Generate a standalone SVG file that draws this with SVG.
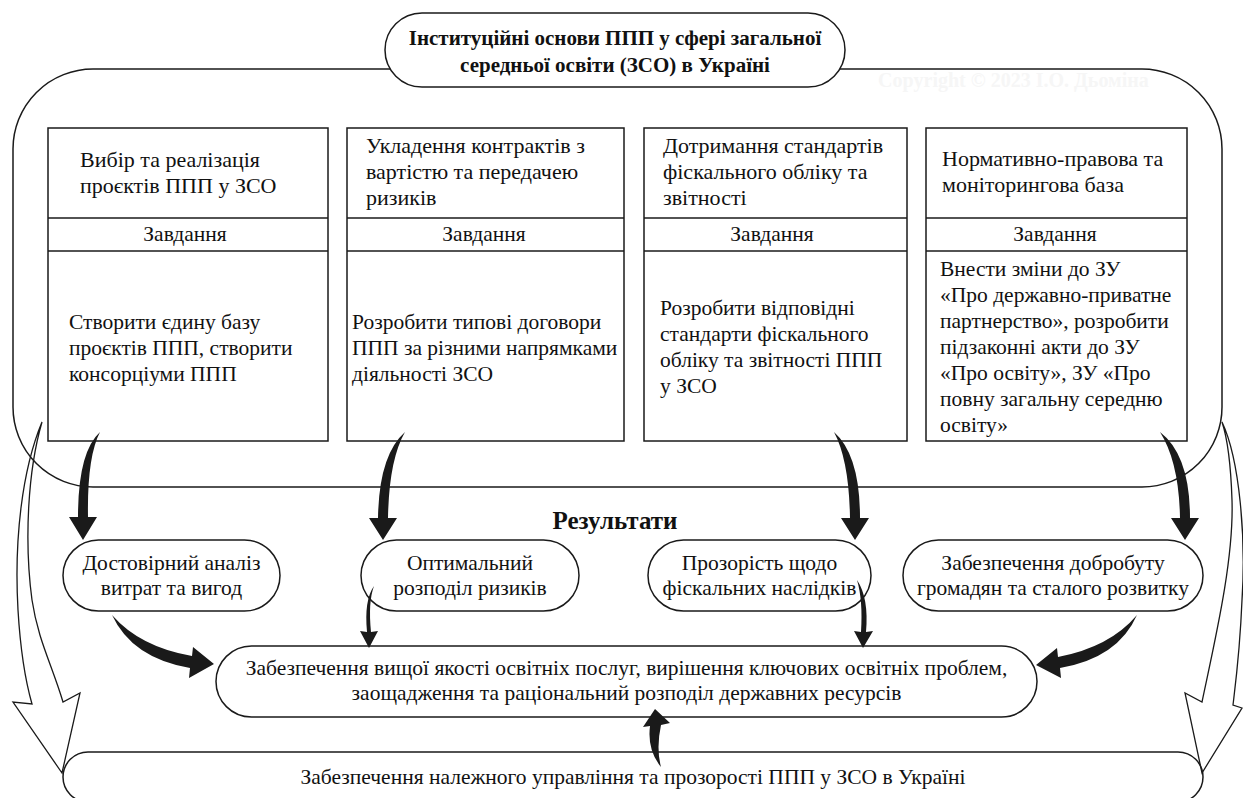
<svg xmlns="http://www.w3.org/2000/svg" width="1243" height="798" viewBox="0 0 1243 798">
<style>
.ln{fill:#fff;stroke:#1a1a1a;stroke-width:1.5}
.fr{fill:none;stroke:#1a1a1a;stroke-width:1.5}
.dv{stroke:#1a1a1a;stroke-width:1.5}
.t{font-family:"Liberation Serif","Times New Roman",serif;font-size:21.5px;fill:#111}
.c{text-anchor:middle}
.b{font-weight:bold}
.h{font-size:22px}
.ar{fill:#1a1a1a;stroke:none}
.ho{fill:none;stroke:#1a1a1a;stroke-width:1.3;stroke-linejoin:miter}
.wm{font-family:"Liberation Serif","Times New Roman",serif;font-size:20px;font-weight:bold;fill:#f6f6f6}
</style>
<rect width="1243" height="798" fill="#fff"/>
<g id="frame">
<rect class="fr" x="13" y="69" width="1209" height="418" rx="80"/>
<text class="wm" x="878" y="87">Copyright © 2023 І.О. Дьоміна</text>
</g>
<g id="title">
<rect class="ln" x="385" y="13" width="460" height="74" rx="37"/>
<text class="t b c" x="615" y="45" style="font-size:21px">Інституційні основи ППП у сфері загальної</text>
<text class="t b c" x="615" y="72" style="font-size:21px">середньої освіти (ЗСО) в Україні</text>
</g>
<g id="box1">
<rect class="ln" x="48" y="128" width="280" height="313"/>
<line class="dv" x1="48" y1="218" x2="328" y2="218"/>
<line class="dv" x1="48" y1="251" x2="328" y2="251"/>
<text class="t h" x="80" y="167">Вибір та реалізація</text>
<text class="t h" x="80" y="193">проєктів ППП у ЗСО</text>
<text class="t c" x="185" y="241">Завдання</text>
<text class="t" x="69" y="329">Створити єдину базу</text>
<text class="t" x="69" y="355">проєктів ППП, створити</text>
<text class="t" x="69" y="381">консорціуми ППП</text>
</g>
<g id="box2">
<rect class="ln" x="347" y="128" width="277" height="313"/>
<line class="dv" x1="347" y1="218" x2="624" y2="218"/>
<line class="dv" x1="347" y1="251" x2="624" y2="251"/>
<text class="t h" x="366" y="153">Укладення контрактів з</text>
<text class="t h" x="366" y="179">вартістю та передачею</text>
<text class="t h" x="366" y="205">ризиків</text>
<text class="t c" x="484" y="241">Завдання</text>
<text class="t" x="352" y="329">Розробити типові договори</text>
<text class="t" x="352" y="355">ППП за різними напрямками</text>
<text class="t" x="352" y="381">діяльності ЗСО</text>
</g>
<g id="box3">
<rect class="ln" x="644" y="128" width="263" height="313"/>
<line class="dv" x1="644" y1="218" x2="907" y2="218"/>
<line class="dv" x1="644" y1="251" x2="907" y2="251"/>
<text class="t h" x="663" y="153">Дотримання стандартів</text>
<text class="t h" x="663" y="179">фіскального обліку та</text>
<text class="t h" x="663" y="205">звітності</text>
<text class="t c" x="772" y="241">Завдання</text>
<text class="t" x="660" y="315">Розробити відповідні</text>
<text class="t" x="660" y="341">стандарти фіскального</text>
<text class="t" x="660" y="367">обліку та звітності ППП</text>
<text class="t" x="660" y="393">у ЗСО</text>
</g>
<g id="box4">
<rect class="ln" x="926" y="128" width="261" height="313"/>
<line class="dv" x1="926" y1="218" x2="1187" y2="218"/>
<line class="dv" x1="926" y1="251" x2="1187" y2="251"/>
<text class="t h" x="942" y="166">Нормативно-правова та</text>
<text class="t h" x="942" y="192">моніторингова база</text>
<text class="t c" x="1055" y="241">Завдання</text>
<text class="t" x="940" y="276">Внести зміни до ЗУ</text>
<text class="t" x="940" y="302">«Про державно-приватне</text>
<text class="t" x="940" y="328">партнерство», розробити</text>
<text class="t" x="940" y="354">підзаконні акти до ЗУ</text>
<text class="t" x="940" y="380">«Про освіту», ЗУ «Про</text>
<text class="t" x="940" y="406">повну загальну середню</text>
<text class="t" x="940" y="432">освіту»</text>
</g>
<g id="results-label">
<text class="t b c" x="615" y="529" style="font-size:25px">Результати</text>
</g>
<g id="result1">
<rect class="ln" x="63" y="540" width="217" height="71" rx="35.5"/>
<text class="t c" x="171.5" y="570">Достовірний аналіз</text>
<text class="t c" x="171.5" y="595">витрат та вигод</text>
</g>
<g id="result2">
<rect class="ln" x="361" y="540" width="218" height="71" rx="35.5"/>
<text class="t c" x="470" y="570">Оптимальний</text>
<text class="t c" x="470" y="595">розподіл ризиків</text>
</g>
<g id="result3">
<rect class="ln" x="648" y="540" width="223" height="71" rx="35.5"/>
<text class="t c" x="759.5" y="570">Прозорість щодо</text>
<text class="t c" x="759.5" y="595">фіскальних наслідків</text>
</g>
<g id="result4">
<rect class="ln" x="903" y="540" width="300" height="71" rx="35.5"/>
<text class="t c" x="1053" y="570">Забезпечення добробуту</text>
<text class="t c" x="1053" y="595">громадян та сталого розвитку</text>
</g>
<g id="outcome">
<rect class="ln" x="216" y="646" width="821" height="71" rx="35.5"/>
<text class="t c" x="626.5" y="675">Забезпечення вищої якості освітніх послуг, вирішення ключових освітніх проблем,</text>
<text class="t c" x="626.5" y="700">заощадження та раціональний розподіл державних ресурсів</text>
</g>
<g id="governance">
<rect class="ln" x="63" y="752" width="1140" height="50" rx="25"/>
<text class="t c" x="633" y="784">Забезпечення належного управління та прозорості ППП у ЗСО в Україні</text>
</g>
<g id="connectors">
<path class="ar" d="M100,432 Q78,452 78,517 L69,517 L83,540 L97,517 L88,517 Q87,457 100,432 Z"/>
<path class="ar" d="M405,432 Q379,455 378,518 L369,518 L383,540 L397,518 L388,518 Q389,460 405,432 Z"/>
<path class="ar" d="M834,432 Q860,455 860,518 L869,518 L855,540 L841,518 L850,518 Q849,460 834,432 Z"/>
<path class="ar" d="M1160,432 Q1190,455 1190,518 L1199,518 L1185,540 L1171,518 L1180,518 Q1179,462 1160,432 Z"/>
<path class="ar" d="M112,615 Q140,647 192,656 L193,647 L214,664 L189,678 L190,668 Q132,658 112,615 Z"/>
<path class="ar" d="M1137,615 Q1110,647 1058,657 L1057,648 L1036,665 L1061,678 L1060,668 Q1118,658 1137,615 Z"/>
<path class="ar" d="M374,586 Q364,600 367,632 L360,631 L369,648 L378,631 L371,632 Q368,602 374,586 Z"/>
<path class="ar" d="M857,580 Q869,598 866,632 L873,631 L863,648 L854,631 L861,632 Q863,600 857,580 Z"/>
<path class="ar" d="M661,767 Q647,750 650,726 L643,727 L655,709 L670,723 L661,725 Q656,748 661,767 Z"/>
<path class="ho" d="M42,422 C22,470 14,540 18,610 C21,660 28,690 32,704 L13,702 L62,773 L80,693 L63,702 C52,665 38,640 32,600 C24,540 28,470 42,422 Z"/>
<path class="ho" d="M1222,422 C1240,460 1246,540 1242,600 C1240,650 1236,680 1233,705 L1242,708 L1202,773 L1185,693 L1202,702 C1215,640 1234,560 1232,500 C1231,470 1228,440 1222,422 Z"/>
</g>
</svg>
